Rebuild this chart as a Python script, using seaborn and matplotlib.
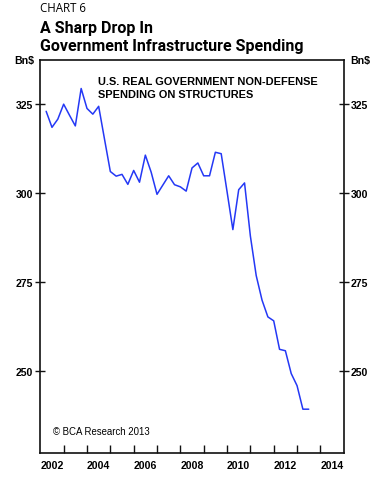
import numpy as np
import pandas as pd
import matplotlib
matplotlib.use("Agg")
import matplotlib.pyplot as plt
import seaborn as sns

# Quarterly data, 2002Q1 .. 2013Q2, billions of $
years = [2002 + q // 4 for q in range(46)]
quarters = [q % 4 + 1 for q in range(46)]
spending = [
    323.0, 318.5, 320.8, 325.0, 321.9, 318.9, 329.4, 323.8, 322.2, 324.4,
    315.2, 306.1, 304.8, 305.3, 302.5, 306.4, 303.1, 310.7, 305.9, 299.7,
    302.3, 304.9, 302.4, 301.8, 300.6, 307.1, 308.5, 304.9, 304.9, 311.5,
    311.1, 300.5, 289.8, 301.0, 302.9, 288.0, 276.9, 270.0, 265.3, 264.2,
    256.2, 255.8, 249.4, 246.0, 239.4, 239.4,
]
year_labels = [2002, 2004, 2006, 2008, 2010, 2012, 2014]
y_ticks = [250, 275, 300, 325]

df = pd.DataFrame({"year": years, "quarter": quarters, "value": spending})
df["t"] = df["year"] + df["quarter"] * 0.25   # plotted at quarter end

sns.set_style("white")
plt.rcParams["font.family"] = ["Liberation Sans", "DejaVu Sans"]
plt.rcParams["text.color"] = "black"
plt.rcParams["xtick.color"] = "black"
plt.rcParams["ytick.color"] = "black"

fig = plt.figure(figsize=(3.88, 4.81), dpi=100)
ax = fig.add_axes([0.1039, 0.0561, 0.782, 0.8171])

sns.lineplot(data=df, x="t", y="value", ax=ax, color="#2438f5", linewidth=1.1)

ax.set_xlim(2002, 2015)
ax.set_ylim(227.1, 337.4)
ax.set_xlabel("")
ax.set_ylabel("")

for s in ax.spines.values():
    s.set_visible(True)
    s.set_color("#111111")
    s.set_linewidth(1.2)

# x: tick marks at year boundaries, labels centred in the year
ax.set_xticks(range(2003, 2015))
ax.set_xticklabels([])
ax.set_xticks([y + 0.5 for y in year_labels], minor=True)
ax.set_xticklabels([str(y) for y in year_labels], minor=True,
                   fontsize=7.6, fontweight="bold")
ax.tick_params(axis="x", which="major", direction="in", length=6,
               width=1.0, color="#111111", bottom=True, top=False)
ax.tick_params(axis="x", which="minor", length=0, pad=5, bottom=True)

ax.set_yticks(y_ticks)
ax.set_yticklabels([str(v) for v in y_ticks], fontsize=7.6, fontweight="bold")
ax.tick_params(axis="y", which="major", direction="inout", length=6.5,
               width=1.0, color="#111111", left=True, right=True,
               labelleft=True, labelright=True, pad=2)

ax.text(-0.02, 1.0, "Bn$", transform=ax.transAxes, ha="right", va="center",
        fontsize=7.6, fontweight="bold")
ax.text(1.02, 1.0, "Bn$", transform=ax.transAxes, ha="left", va="center",
        fontsize=7.6, fontweight="bold")

ax.text(0.19, 0.96, "U.S. REAL GOVERNMENT NON-DEFENSE\nSPENDING ON STRUCTURES",
        transform=ax.transAxes, ha="left", va="top", fontsize=7.95,
        fontweight="bold", linespacing=1.4)
ax.text(0.043, 0.055, "\u00a9 BCA Research 2013", transform=ax.transAxes,
        ha="left", va="center", fontsize=6.9)

fig.text(0.1039, 0.996, "CHART 6", ha="left", va="top", fontsize=8.3,
         family=["Open Sans", "DejaVu Sans"])
fig.text(0.1039, 0.957, "A Sharp Drop In\nGovernment Infrastructure Spending",
         ha="left", va="top", fontsize=11.5, fontweight="bold",
         family=["Roboto", "DejaVu Sans"], linespacing=1.3)

fig.savefig("out.png", dpi=100)
